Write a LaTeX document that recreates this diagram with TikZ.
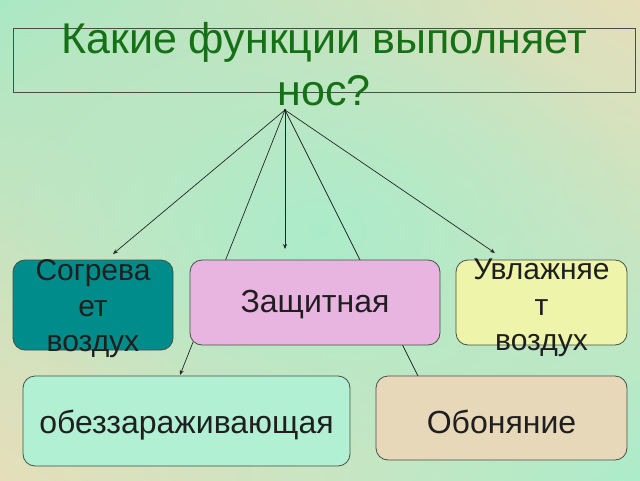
\documentclass[tikz,border=0pt]{standalone}
\usepackage{fontspec}
\setmainfont{Liberation Sans}
\usetikzlibrary{arrows.meta,fadings,shadings}
\definecolor{bgmint}{RGB}{172,236,202}
\definecolor{bgmintcorner}{RGB}{170,232,196}
\definecolor{bgbeige}{RGB}{230,222,186}
\definecolor{titlegreen}{RGB}{22,112,22}
\definecolor{tealbox}{RGB}{0,140,138}
\definecolor{pinkbox}{RGB}{232,180,224}
\definecolor{yellowbox}{RGB}{238,245,170}
\definecolor{mintbox}{RGB}{178,240,212}
\definecolor{beigebox}{RGB}{230,216,184}
\definecolor{edgegray}{RGB}{70,80,70}
\tikzfading[name=centerfade, inner color=transparent!0, outer color=transparent!100]
\pgfdeclarelayer{back}
\pgfdeclarelayer{lines}
\pgfsetlayers{back,lines,main}
\tikzset{
  fbox/.style={draw=edgegray, line width=0.8pt, rounded corners=12pt, inner sep=0pt},
  boxtext/.style={align=center, text=black!88, font=\fontsize{30}{35.5}\selectfont, inner sep=0pt},
  bigtext/.style={align=center, text=black!88, font=\fontsize{32}{36}\selectfont, inner sep=0pt},
  conn/.style={draw=black!85, line width=0.7pt},
  tip/.style={conn, -{Stealth[length=5pt,width=4pt]}}
}
\begin{document}
\begin{tikzpicture}[x=1pt,y=-1pt]
\useasboundingbox (0,0) rectangle (640,480);
\begin{pgfonlayer}{back}
\shade[upper left=bgmintcorner, upper right=bgbeige, lower left=bgbeige, lower right=bgmint] (0,0) rectangle (640,480);
\fill[bgmint, path fading=centerfade] (320,230) ellipse (330pt and 230pt);
\end{pgfonlayer}

% title
\node[draw=edgegray, line width=0.8pt, minimum width=622pt, minimum height=64pt, inner sep=0pt] (titlebox) at (324,60) {};
\node[align=center, text=titlegreen, font=\fontsize{43}{52}\selectfont, inner sep=0pt] (title) at (324,64) {Какие функции выполняет\\нос?};

% apex and free ends
\coordinate (apex) at (285,110);

% boxes
\node[fbox, fill=tealbox, minimum width=160pt, minimum height=90pt] (warm) at (93,305) {};
\node[boxtext] (warmt) at (93,309) {Согрева\\ет\\воздух};
\node[fbox, fill=pinkbox, minimum width=250pt, minimum height=85pt] (prot) at (315,302.5) {};
\node[bigtext] (prott) at (315,305) {Защитная};
\node[fbox, fill=yellowbox, minimum width=171pt, minimum height=85pt] (moist) at (541.5,302.5) {};
\node[boxtext] (moistt) at (541.5,308) {Увлажняе\\т\\воздух};
\node[fbox, fill=mintbox, minimum width=327pt, minimum height=90pt] (disinf) at (186.5,421) {};
\node[bigtext] (disinft) at (186.5,425) {обеззараживающая};
\node[fbox, fill=beigebox, minimum width=251pt, minimum height=84pt] (smell) at (501.5,418) {};
\node[bigtext] (smellt) at (501.5,422) {Обоняние};

\coordinate (endwarm) at (113,254);
\coordinate (endprot) at (285,249);
\coordinate (enddis) at (180,375);
\coordinate (endsmell) at (418,376);
\coordinate (endmoist) at (495,253);

\begin{pgfonlayer}{lines}
\draw[tip] (apex) -- (endwarm);
\draw[tip] (apex) -- (enddis);
\draw[tip] (apex) -- (endprot);
\draw[conn] (apex) -- (endsmell);
\draw[tip] (apex) -- (endmoist);
\fill[black] (apex) circle (1.2pt);
\end{pgfonlayer}
\end{tikzpicture}
\end{document}
